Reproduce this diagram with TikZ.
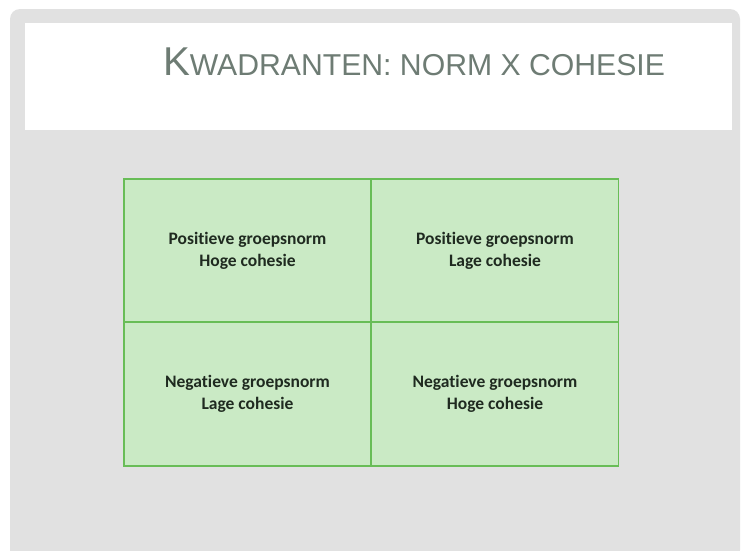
\documentclass[tikz,border=0pt]{standalone}
\usepackage{fontspec}
\setmainfont[Ligatures=NoCommon]{Carlito}
\newfontfamily\titlefont{Liberation Sans}
\definecolor{slidegrey}{HTML}{E1E1E1}
\definecolor{titlecol}{HTML}{6E7C74}
\definecolor{cellfill}{HTML}{CAEAC5}
\definecolor{cellline}{HTML}{68BD57}
\definecolor{celltext}{HTML}{1F2A20}
\tikzset{
  cell/.style={draw=cellline, line width=1.8pt, fill=cellfill, minimum width=247pt, minimum height=143.5pt, inner sep=0pt, font=\fontsize{17.5}{22}\selectfont\bfseries, text=celltext, align=center},
}
\begin{document}
\begin{tikzpicture}[x=1pt,y=-1pt]
\useasboundingbox (0,0) rectangle (750,550);
\fill[white] (0,0) rectangle (750,550);
\fill[slidegrey, rounded corners=10pt] (10,9) -- (740,9) -- (740,560) -- (10,560) -- cycle;
\fill[white] (25,23) rectangle (732,130);
\node[anchor=base, text=titlecol, inner sep=0pt] (title) at (414,75)
  {\titlefont\resizebox{502pt}{!}{\fontsize{42}{42}\selectfont K\fontsize{31.5}{32}\selectfont WADRANTEN: NORM X COHESIE}};
\node[cell] (tl) at (247.5,250.5) {Positieve groepsnorm\\Hoge cohesie};
\node[cell] (tr) at (495,250.5) {Positieve groepsnorm\\Lage cohesie};
\node[cell] (bl) at (247.5,394) {Negatieve groepsnorm\\Lage cohesie};
\node[cell] (br) at (495,394) {Negatieve groepsnorm\\Hoge cohesie};
\end{tikzpicture}
\end{document}
